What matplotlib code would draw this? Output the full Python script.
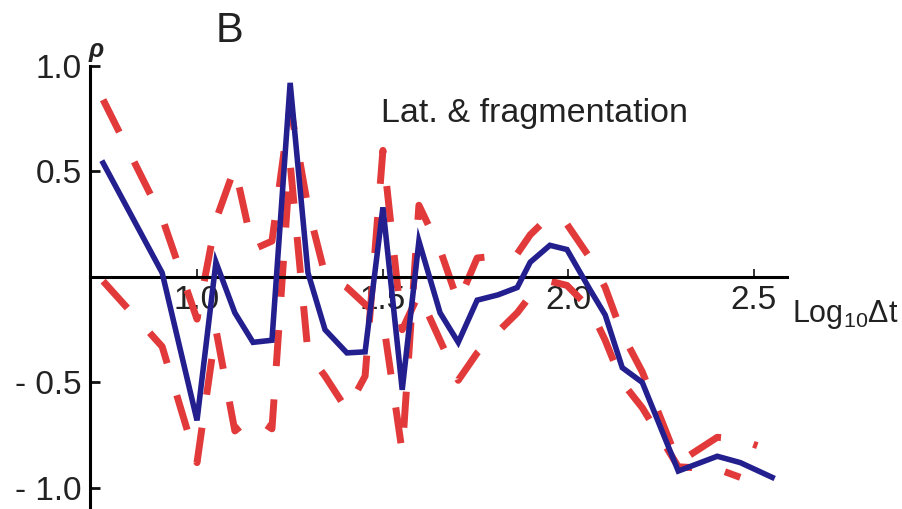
import matplotlib
matplotlib.use("Agg")
import matplotlib.pyplot as plt

plt.rcParams["font.family"] = ["Liberation Sans", "DejaVu Sans"]
plt.rcParams["mathtext.fontset"] = "custom"
plt.rcParams["mathtext.rm"] = "Liberation Sans"
plt.rcParams["lines.scale_dashes"] = False

# Correlation coefficient rho against log10 of the time lag
log_dt = [0.747, 0.906, 1.0, 1.051, 1.102, 1.151, 1.202, 1.251, 1.299, 1.345,
          1.404, 1.453, 1.501, 1.553, 1.598, 1.655, 1.704, 1.755, 1.811, 1.863,
          1.898, 1.951, 1.997, 2.059, 2.1, 2.146, 2.2, 2.297, 2.402, 2.464, 2.55]
rho = [0.54, 0.02, -0.68, 0.07, -0.17, -0.31, -0.30, 0.92, 0.02, -0.25,
       -0.36, -0.355, 0.33, -0.535, 0.17, -0.17, -0.31, -0.11, -0.085, -0.05,
       0.07, 0.15, 0.13, -0.06, -0.18, -0.43, -0.50, -0.92, -0.85, -0.88, -0.95]

# Dashed bounds
log_dt_a = [0.747, 0.906, 1.0, 1.051, 1.102, 1.151, 1.202, 1.251, 1.299, 1.345,
            1.404, 1.453, 1.501, 1.553, 1.598, 1.655, 1.704, 1.755, 1.811, 1.863,
            1.898, 1.951, 1.997, 2.059, 2.1, 2.146, 2.2, 2.297, 2.402, 2.464, 2.51]
rho_a = [0.84, 0.28, -0.20, 0.27, 0.52, 0.13, 0.17, 0.81, 0.33, 0.01,
         -0.05, -0.13, -0.20, -0.83, 0.34, 0.13, -0.12, 0.09, 0.10, 0.11,
         0.20, 0.29, 0.25, 0.09, -0.05, -0.27, -0.45, -0.88, -0.76, -0.77, -0.80]

log_dt_b = [0.747, 0.906, 1.0, 1.051, 1.102, 1.151, 1.202, 1.251, 1.299, 1.345,
            1.404, 1.453, 1.501, 1.553, 1.598, 1.655, 1.704, 1.755, 1.811, 1.863,
            1.898, 1.951, 1.997, 2.059, 2.1, 2.146, 2.2, 2.297, 2.402, 2.464]
rho_b = [-0.02, -0.33, -0.88, -0.25, -0.73, -0.66, -0.72, 0.54, -0.36, -0.47,
         -0.63, -0.47, 0.60, -0.25, -0.08, -0.30, -0.49, -0.36, -0.26, -0.17,
         -0.09, -0.02, -0.04, -0.15, -0.30, -0.50, -0.62, -0.90, -0.91, -0.95]

x_ticks = [1.0, 1.5, 2.0, 2.5]
x_tick_labels = ["1.0", "1.5", "2.0", "2.5"]
y_ticks = [-1.0, -0.5, 0.5, 1.0]
y_tick_labels = ["- 1.0", "- 0.5", "0.5", "1.0"]

W, H = 902, 509
fig = plt.figure(figsize=(W / 100, H / 100), dpi=100)
ax = fig.add_axes([90 / W, 0, 697 / W, 443 / H])
ax.set_xlim(0.7116, 2.590)
ax.set_ylim(-1.1, 1.0)

red = "#e23a3a"
navy = "#231f8e"
for xs, ys in ((log_dt_a, rho_a), (log_dt_b, rho_b)):
    ax.plot(xs, ys, color=red, lw=5.0, dashes=(26, 24),
            dash_capstyle="butt", clip_on=False, zorder=2)
ax.plot(log_dt, rho, color=navy, lw=4.0, solid_joinstyle="miter",
        clip_on=False, zorder=3)

for side in ("top", "right"):
    ax.spines[side].set_visible(False)
ax.spines["bottom"].set_position(("data", 0))
ax.spines["bottom"].set_linewidth(2.2)
ax.spines["left"].set_linewidth(2.2)
ax.set_axisbelow(True)

ax.set_xticks(x_ticks)
ax.set_xticklabels(x_tick_labels)
ax.set_yticks(y_ticks)
ax.set_yticklabels(y_tick_labels)
ax.tick_params(axis="y", direction="in", length=7, width=2.0, pad=6,
               labelsize=24, color="#111111", labelcolor="#222222")
ax.tick_params(axis="x", direction="in", length=6, width=1.2, pad=6,
               labelsize=24, color="#111111", labelcolor="#222222")

ax.text(1.496, 0.735, "Lat. & fragmentation", fontsize=24.5,
        ha="left", va="baseline", color="#222222")
fig.text(216 / W, 1 - 42 / H, "B", fontsize=30, ha="left", va="baseline",
         color="#222222")
fig.text(96 / W, 1 - 50 / H, "ρ", fontsize=18, fontweight="bold",
         fontstyle="italic", ha="center", va="center", color="#222222")
fig.text(792 / W, 1 - 322 / H, r"Log$_{\mathregular{10}}$Δt", fontsize=22,
         ha="left", va="baseline", color="#222222")

fig.savefig("out.png", dpi=100)
